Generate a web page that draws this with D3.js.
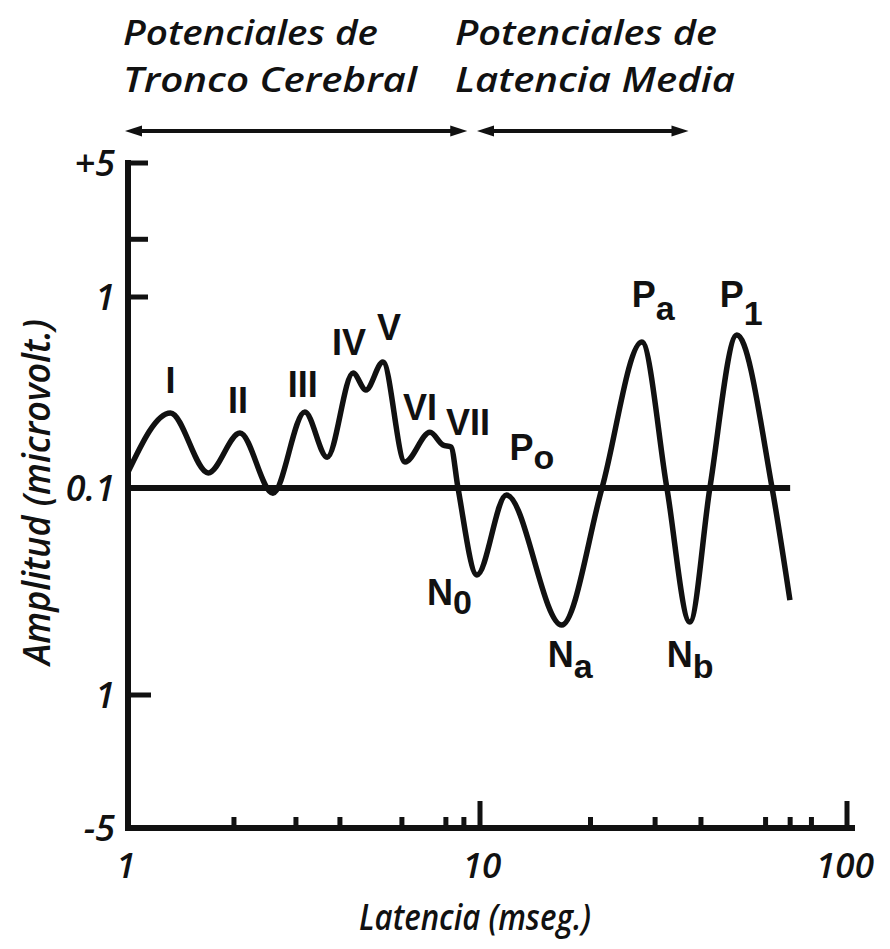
<!DOCTYPE html>
<html>
<head>
<meta charset="utf-8">
<script src="https://cdn.jsdelivr.net/npm/d3@7/dist/d3.min.js"></script>
<style>
  html, body { margin: 0; padding: 0; background: #fff; }
  svg { display: block; }
  .it { font-family: "Open Sans", "Noto Sans", sans-serif; font-style: italic; font-weight: 600; fill: #111; }
  .pk { font-family: "Liberation Sans Narrow", "Arial Narrow", "Liberation Sans", sans-serif; font-weight: bold; fill: #111; }
</style>
</head>
<body>
<svg id="chart" width="890" height="949"></svg>
<script>
// Latency (ms) of each point along the evoked-potential trace
const latency = [1.00, 1.32, 1.69, 2.08, 2.58, 3.18, 3.68, 4.36, 4.74, 5.30,
                 6.12, 7.21, 7.85, 8.27, 8.66, 9.80, 11.8, 16.7, 21.5, 27.6,
                 32.3, 37.3, 42.3, 50.1, 62.5, 69.9];
// Amplitude (microvolts) at each latency; |v| <= 0.1 sits on the 0.1 baseline
const amplitude = [0.121, 0.247, 0.120, 0.194, -0.106, 0.250, 0.145, 0.400, 0.326, 0.457,
                   0.137, 0.196, 0.168, 0.164, 0, -0.263, -0.108, -0.459, 0, 0.581,
                   0, -0.444, 0, 0.632, 0, -0.348];

// Named waves: label, subscript, index of the point they mark
const waveNames = ["I", "II", "III", "IV", "V", "VI", "VII", "N", "P", "N", "P", "N", "P"];
const waveSubs  = ["", "", "", "", "", "", "", "0", "o", "a", "a", "b", "1"];
const waveIndex = [1, 3, 5, 7, 9, 11, 13, 15, 16, 17, 19, 21, 23];

// Axis ticks
const xMajorTicks = [1, 10, 100];
const xMajorLabels = ["1", "10", "100"];
const xMinorTicks = [2, 3, 4, 6, 8, 9, 20, 30, 40, 60, 70, 80];
const yTicks = [5, 2, 1, 0.1, -1, -5];
const yTickLabels = ["+5", "", "1", "0.1", "1", "-5"];

// Latency ranges of the two response families
const rangeNames = [["Potenciales de", "Tronco Cerebral"], ["Potenciales de", "Latencia Media"]];
const rangeSpans = [[1, 9.2], [10, 37]];

const baselineAmp = 0.1;
const baselineEnd = 70;

// ---- layout ----
const svg = d3.select("#chart");
svg.append("rect").attr("width", 890).attr("height", 949).attr("fill", "#fff");

const x = d3.scaleLog().domain([1, 10, 100]).range([128, 480, 847]);

// signed log distance from the 0.1 microvolt baseline
const logAmp = v => Math.sign(v) * Math.max(0, Math.log10(Math.abs(v) / baselineAmp));
const yLin = d3.scaleLinear()
  .domain([logAmp(-5), logAmp(-1), 0, logAmp(1), logAmp(5)])
  .range([828, 695, 488, 297, 163]);
const y = v => yLin(logAmp(v));

const ink = "#111";
const x0 = x(1), yBottom = y(-5), yTop = y(5);

// y axis
svg.append("line").attr("x1", x0).attr("x2", x0).attr("y1", yTop - 3).attr("y2", yBottom + 3)
  .attr("stroke", ink).attr("stroke-width", 6);
// x axis
svg.append("line").attr("x1", x0 - 3).attr("x2", 855).attr("y1", yBottom).attr("y2", yBottom)
  .attr("stroke", ink).attr("stroke-width", 6);

// y ticks (pointing inward)
yTicks.forEach((t, i) => {
  if (t !== 0.1 && t !== -5) {
    svg.append("line").attr("x1", x0).attr("x2", x0 + (t < 0 ? 23 : 20))
      .attr("y1", y(t)).attr("y2", y(t)).attr("stroke", ink).attr("stroke-width", 5);
  }
  if (yTickLabels[i]) {
    svg.append("text").attr("class", "it").attr("x", 115).attr("y", y(t) + 13)
      .attr("text-anchor", "end").attr("font-size", 36).text(yTickLabels[i]);
  }
});

// x ticks
xMinorTicks.forEach(t => {
  svg.append("line").attr("x1", x(t)).attr("x2", x(t)).attr("y1", yBottom).attr("y2", yBottom - 11)
    .attr("stroke", ink).attr("stroke-width", 5);
});
xMajorTicks.forEach((t, i) => {
  if (t > 1) {
    svg.append("line").attr("x1", x(t)).attr("x2", x(t)).attr("y1", yBottom).attr("y2", yBottom - 27)
      .attr("stroke", ink).attr("stroke-width", 5);
  }
  svg.append("text").attr("class", "it").attr("x", x(t) + (t === 10 ? 2 : -2)).attr("y", 878)
    .attr("text-anchor", "middle").attr("font-size", 35).text(xMajorLabels[i]);
});

// axis titles
svg.append("text").attr("class", "it").attr("x", 475).attr("y", 930)
  .attr("text-anchor", "middle").attr("font-size", 36)
  .attr("textLength", 232).attr("lengthAdjust", "spacingAndGlyphs")
  .text("Latencia (mseg.)");
svg.append("text").attr("class", "it")
  .attr("transform", "translate(50,492) rotate(-90)")
  .attr("text-anchor", "middle").attr("font-size", 37)
  .attr("textLength", 346).attr("lengthAdjust", "spacingAndGlyphs")
  .text("Amplitud (microvolt.)");

// 0.1 baseline
svg.append("line").attr("x1", x0).attr("x2", x(baselineEnd))
  .attr("y1", y(baselineAmp)).attr("y2", y(baselineAmp))
  .attr("stroke", ink).attr("stroke-width", 6);

// trace
const pts = latency.map((l, i) => [x(l), y(amplitude[i])]);
svg.append("path")
  .attr("d", d3.line().curve(d3.curveMonotoneX)(pts))
  .attr("fill", "none").attr("stroke", ink).attr("stroke-width", 5.5)
  .attr("stroke-linejoin", "round").attr("stroke-linecap", "butt");

// wave labels: [dx, dy, anchor, subscript dy]
const labelLayout = [
  [0, -20, "middle"], [-2, -20, "middle"], [-2, -15, "middle"], [-4, -18, "middle"],
  [6, -22, "middle"], [-10, -12, "middle"], [17, -12, "middle"],
  [-50, 30, "start", 9], [3, -35, "start", 9], [-14, 42, "start", 11],
  [-10, -35, "start", 13], [-23, 45, "start", 11], [-17, -28, "start", 18]
];
waveNames.forEach((name, i) => {
  const p = pts[waveIndex[i]];
  const [dx, dy, anchor, sdy] = labelLayout[i];
  const t = svg.append("text").attr("class", "pk")
    .attr("x", p[0] + dx).attr("y", p[1] + dy)
    .attr("text-anchor", anchor).attr("font-size", 36);
  t.append("tspan").text(name);
  if (waveSubs[i]) {
    t.append("tspan").attr("dy", sdy).attr("font-size", 34).text(waveSubs[i]);
  }
});

// response-family headings and range arrows
const titleX = [123, 455];
const titleW = [[255, 294], [262, 280]];
rangeNames.forEach((lines, k) => {
  lines.forEach((ln, j) => {
    svg.append("text").attr("class", "it")
      .attr("x", titleX[k]).attr("y", j === 0 ? 45 : 92)
      .attr("font-size", 35)
      .attr("textLength", titleW[k][j]).attr("lengthAdjust", "spacingAndGlyphs")
      .text(ln);
  });
  const a = x(rangeSpans[k][0]) - 3, b = x(rangeSpans[k][1]), ay = 131;
  svg.append("line").attr("x1", a + 10).attr("x2", b - 10).attr("y1", ay).attr("y2", ay)
    .attr("stroke", ink).attr("stroke-width", 4);
  svg.append("path").attr("d", `M${a},${ay} L${a + 17},${ay - 5.5} L${a + 17},${ay + 5.5} Z`).attr("fill", ink);
  svg.append("path").attr("d", `M${b},${ay} L${b - 17},${ay - 5.5} L${b - 17},${ay + 5.5} Z`).attr("fill", ink);
});
</script>
</body>
</html>
